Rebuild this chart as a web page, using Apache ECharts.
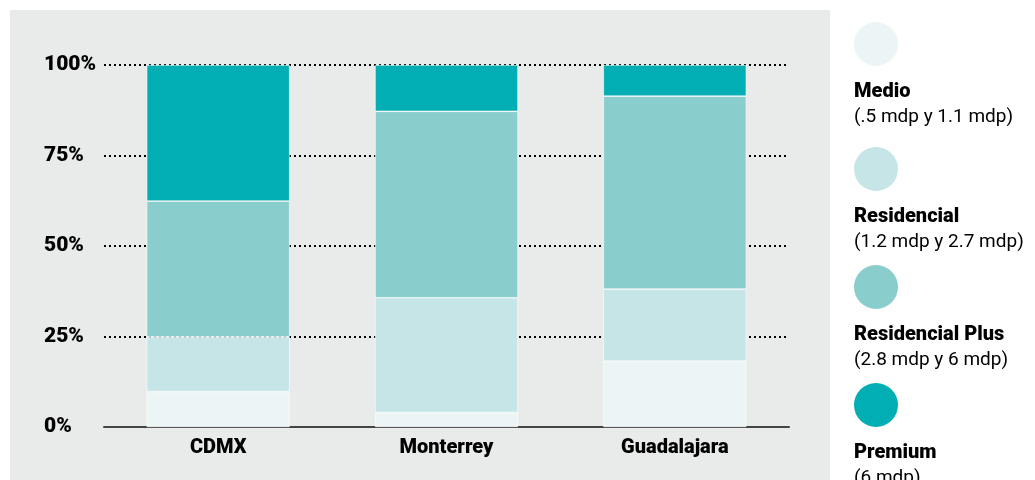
<!DOCTYPE html>
<html><head><meta charset="utf-8">
<script src="https://cdn.jsdelivr.net/npm/echarts@6/dist/echarts.min.js"></script>
<style>html,body{margin:0;padding:0;background:#fff}#c{width:1035px;height:480px}</style>
</head><body><div id="c"></div>
<script>
const categories = ['CDMX', 'Monterrey', 'Guadalajara'];
const medio = [9.8, 4.0, 18.2];
const residencial = [15.1, 31.7, 19.9];
const residencialPlus = [37.5, 51.5, 53.3];
const premium = [37.6, 12.8, 8.6];
const yTicks = [0, 25, 50, 75, 100];
const legendNames = ['Medio', 'Residencial', 'Residencial Plus', 'Premium'];
const legendSubs = ['(.5 mdp y 1.1 mdp)', '(1.2 mdp y 2.7 mdp)', '(2.8 mdp y 6 mdp)', '(6 mdp)'];
const colors = ['#ECF5F6', '#C5E5E6', '#89CDCD', '#00AEB3'];

const chart = echarts.init(document.getElementById('c'), null, {renderer: 'canvas'});
const seriesData = [medio, residencial, residencialPlus, premium];
const series = seriesData.map((d, i) => ({
  name: legendNames[i], type: 'bar', stack: 'total', data: d, barWidth: 143,
  itemStyle: {color: colors[i], borderColor: '#ffffff', borderWidth: 0.6},
  emphasis: {disabled: true}
}));

const legendY = [44, 169, 287, 405];
const graphics = [{type: 'rect', shape: {x: 10, y: 10, width: 820, height: 480}, style: {fill: '#E9EAEA'}, z: -10, silent: true}];
legendY.forEach((y, i) => {
  graphics.push({type: 'circle', shape: {cx: 876, cy: y, r: 22}, style: {fill: colors[i]}});
  graphics.push({type: 'text', x: 854, y: y + 48, style: {text: legendNames[i], font: '900 20px Roboto', fill: '#000', textVerticalAlign: 'middle'}});
  graphics.push({type: 'text', x: 854, y: y + 73, style: {text: legendSubs[i], font: '19px Roboto', fill: '#000', textVerticalAlign: 'middle'}});
});

chart.setOption({
  animation: false,
  backgroundColor: '#ffffff',
  grid: {left: 104, right: 246, top: 65, bottom: 53, containLabel: false},
  xAxis: {
    type: 'category', data: categories,
    axisLine: {lineStyle: {color: '#444', width: 2}},
    axisTick: {show: false},
    axisLabel: {color: '#000', fontFamily: 'Roboto', fontWeight: 900, fontSize: 20, margin: 11}
  },
  yAxis: {
    type: 'value', min: 0, max: 100, interval: 25,
    axisLine: {show: false}, axisTick: {show: false},
    axisLabel: {color: '#000', fontFamily: 'Roboto', fontWeight: 900, fontSize: 21, align: 'left', margin: 60,
      formatter: v => yTicks.includes(v) ? v + '%' : ''},
    splitLine: {show: true, lineStyle: {type: [2, 3], color: '#000', width: 2}}
  },
  series: series,
  graphic: graphics
});
</script></body></html>
